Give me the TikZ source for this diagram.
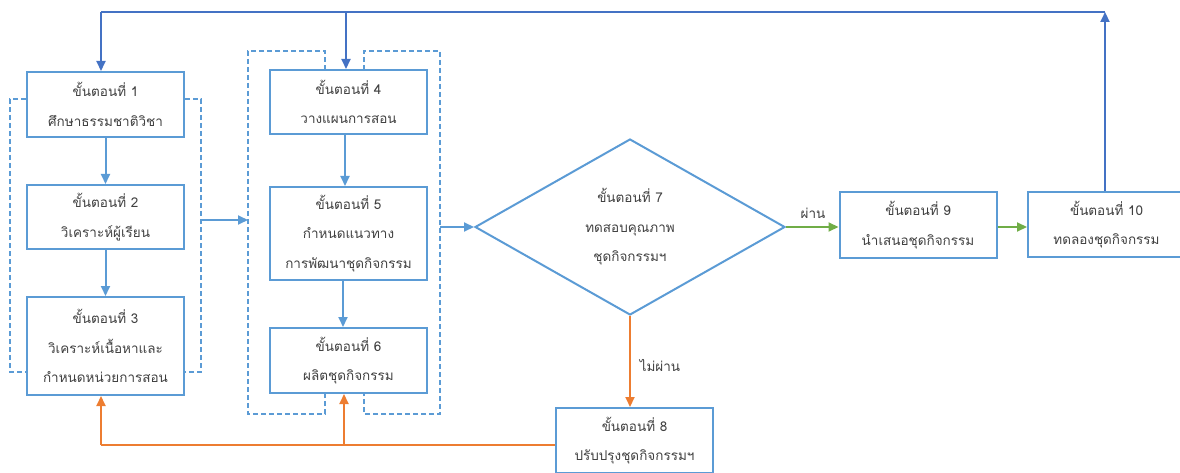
\documentclass[tikz,border=0pt]{standalone}
\usepackage{fontspec}
\newfontfamily\thaifont[Script=Thai]{Loma}
\usetikzlibrary{shapes.geometric,arrows.meta}
\definecolor{boxblue}{RGB}{91,155,213}
\definecolor{topblue}{RGB}{68,114,196}
\definecolor{orng}{RGB}{237,125,49}
\definecolor{grn}{RGB}{112,173,71}
\definecolor{txt}{RGB}{64,64,64}
\tikzset{
  stepbox/.style={draw=boxblue,line width=2pt,rectangle,inner sep=0pt,minimum width=157pt,align=center,text=txt,font=\thaifont\fontsize{13.5}{29.5}\selectfont},
  tip/.style={-{Triangle[length=10pt,width=9pt]}},
  bline/.style={draw=boxblue,line width=2pt},
  tline/.style={draw=topblue,line width=2pt},
  oline/.style={draw=orng,line width=2pt},
  gline/.style={draw=grn,line width=2pt},
  frame/.style={draw=boxblue,line width=1.6pt,dash pattern=on 5pt off 3pt},
  lbl/.style={text=txt,font=\thaifont\fontsize{13.5}{29.5}\selectfont,inner sep=0pt}
}
\begin{document}
\begin{tikzpicture}[x=1pt,y=-1pt]
\useasboundingbox (0,0) rectangle (1180,473);
\clip (0,0) rectangle (1180,473);
% boxes
\node[stepbox,minimum height=65pt] (b1) at (105.5,104.5) {ขั้นตอนที่ 1\\ศึกษาธรรมชาติวิชา};
\node[stepbox,minimum height=64pt] (b2) at (105.5,217) {ขั้นตอนที่ 2\\วิเคราะห์ผู้เรียน};
\node[stepbox,minimum height=98pt] (b3) at (105.5,346) {ขั้นตอนที่ 3\\วิเคราะห์เนื้อหาและ\\กำหนดหน่วยการสอน};
\node[stepbox,minimum height=64pt] (b4) at (348.5,102) {ขั้นตอนที่ 4\\วางแผนการสอน};
\node[stepbox,minimum height=93pt] (b5) at (348.5,233.5) {ขั้นตอนที่ 5\\กำหนดแนวทาง\\การพัฒนาชุดกิจกรรม};
\node[stepbox,minimum height=65pt] (b6) at (348.5,360.5) {ขั้นตอนที่ 6\\ผลิตชุดกิจกรรม};
\node[stepbox,diamond,aspect=1.76,minimum width=310pt,minimum height=176pt] (b7) at (630,227) {ขั้นตอนที่ 7\\ทดสอบคุณภาพ\\ชุดกิจกรรมฯ};
\node[stepbox,minimum height=65pt] (b8) at (634.5,440.5) {ขั้นตอนที่ 8\\ปรับปรุงชุดกิจกรรมฯ};
\node[stepbox,minimum height=66pt] (b9) at (918,225) {ขั้นตอนที่ 9\\นำเสนอชุดกิจกรรม};
\node[stepbox,minimum height=65pt] (b10) at (1106.5,224.5) {ขั้นตอนที่ 10\\ทดลองชุดกิจกรรม};
% dashed frames
\draw[frame] (b1.west |- 0,99) -- (10,99) -- (10,372) -- (b3.west |- 0,372);
\draw[frame] (b1.east |- 0,99) -- (201,99) -- (201,372) -- (b3.east |- 0,372);
\draw[frame] (325,70) -- (325,51) -- (248,51) -- (248,414) -- (325,414) -- (325,393);
\draw[frame] (364,70) -- (364,51) -- (440,51) -- (440,414) -- (364,414) -- (364,393);
\coordinate (fl) at (201,220);
\coordinate (fm) at (248,220);
\coordinate (fr) at (440,227);
% blue connectors
\draw[bline,tip] (b1) -- (b2);
\draw[bline,tip] (b2) -- (b3);
\draw[bline,tip] (b4.south -| 345,0) -- (b5.north -| 345,0);
\draw[bline,tip] (b5.south -| 343,0) -- (b6.north -| 343,0);
\draw[bline,tip] (fl) -- (fm);
\draw[bline,tip] (fr) -- (b7.west);
% top feedback
\coordinate (tr) at (1105,12);
\coordinate (tl) at (101,12);
\coordinate (tm) at (346,12);
\draw[tline,tip] (b10.north -| tr) -- (tr);
\draw[tline] (tr) -- (tl);
\draw[tline,tip] (tl) -- (b1.north -| tl);
\draw[tline,tip] (tm) -- (b4.north -| tm);
% green
\draw[gline,tip] (b7.east) -- (b9.west |- b7.east);
\draw[gline,tip] (b9.east |- 0,227) -- (b10.west |- 0,227);
\node[lbl] (pass) at (813,213) {ผ่าน};
% orange
\draw[oline,tip] (b7.south) -- (b8.north -| b7.south);
\node[lbl] (fail) at (660,365) {ไม่ผ่าน};
\coordinate (ol) at (101,445);
\coordinate (om) at (344,445);
\draw[oline] (b8.west |- ol) -- (ol);
\draw[oline,tip] (ol) -- (b3.south -| ol);
\draw[oline,tip] (om) -- (b6.south -| om);
\end{tikzpicture}
\end{document}
